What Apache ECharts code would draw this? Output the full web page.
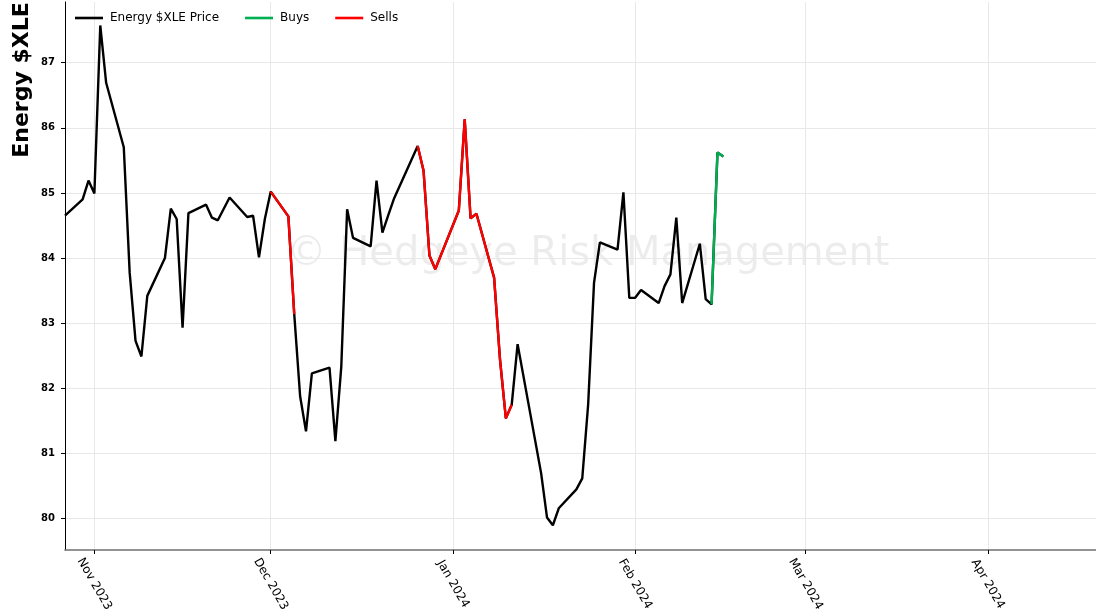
<!DOCTYPE html>
<html><head><meta charset="utf-8">
<script src="https://cdn.jsdelivr.net/npm/echarts@6/dist/echarts.min.js"></script>
<style>html,body{margin:0;padding:0;background:#fff}#c{width:1096px;height:616px}</style>
</head><body><div id="c"></div>
<script>
const dates = ['2023-10-27','2023-10-30','2023-10-31','2023-11-01','2023-11-02','2023-11-03','2023-11-06','2023-11-07','2023-11-08','2023-11-09','2023-11-10','2023-11-13','2023-11-14','2023-11-15','2023-11-16','2023-11-17','2023-11-20','2023-11-21','2023-11-22','2023-11-24','2023-11-27','2023-11-28','2023-11-29','2023-11-30','2023-12-01','2023-12-04','2023-12-05','2023-12-06','2023-12-07','2023-12-08','2023-12-11','2023-12-12','2023-12-13','2023-12-14','2023-12-15','2023-12-18','2023-12-19','2023-12-20','2023-12-21','2023-12-22','2023-12-26','2023-12-27','2023-12-28','2023-12-29','2024-01-02','2024-01-03','2024-01-04','2024-01-05','2024-01-08','2024-01-09','2024-01-10','2024-01-11','2024-01-12','2024-01-16','2024-01-17','2024-01-18','2024-01-19','2024-01-22','2024-01-23','2024-01-24','2024-01-25','2024-01-26','2024-01-29','2024-01-30','2024-01-31','2024-02-01','2024-02-02','2024-02-05','2024-02-06','2024-02-07','2024-02-08','2024-02-09','2024-02-12','2024-02-13','2024-02-14','2024-02-15','2024-02-16'];
const prices = [84.65,84.90,85.19,84.99,87.57,86.69,85.70,83.78,82.73,82.49,83.42,84.00,84.76,84.60,82.93,84.69,84.82,84.62,84.58,84.93,84.63,84.65,84.01,84.60,85.02,84.64,83.14,81.88,81.34,82.23,82.32,81.19,82.33,84.75,84.31,84.18,85.19,84.39,84.66,84.92,85.72,85.34,84.04,83.83,84.73,86.13,84.61,84.68,83.70,82.45,81.54,81.75,82.68,80.70,80.02,79.90,80.16,80.45,80.62,81.75,83.62,84.24,84.13,85.01,83.39,83.39,83.51,83.31,83.57,83.75,84.62,83.31,84.22,83.37,83.29,85.62,85.56];
const sellRanges = [['2023-12-01','2023-12-05'],['2023-12-26','2024-01-11']];
const buyRanges = [['2024-02-14','2024-02-16']];
const monthTicks = ['2023-11-01','2023-12-01','2024-01-01','2024-02-01','2024-03-01','2024-04-01'];
const monthNames = ['Jan','Feb','Mar','Apr','May','Jun','Jul','Aug','Sep','Oct','Nov','Dec'];
const yTicks = [80,81,82,83,84,85,86,87];
const xStart = '2023-10-27';
const xSpanDays = 175.4;
const yMin = 79.52, yMax = 87.93;

const ts = s => Date.parse(s + 'T00:00:00Z');
const DAY = 86400000;
const pricePts = dates.map((d, i) => [ts(d), prices[i]]);
const pick = r => pricePts.filter(p => p[0] >= ts(r[0]) && p[0] <= ts(r[1]));
const FONT = 'DejaVu Sans';
const LW = 2.4;

const series = [{
  name: 'Energy $XLE Price', type: 'line', data: pricePts, symbol: 'none',
  lineStyle: { color: '#000', width: LW }, itemStyle: { color: '#000' }, z: 3
}];
buyRanges.forEach(r => series.push({
  name: 'Buys', type: 'line', data: pick(r), symbol: 'none',
  lineStyle: { color: '#00b050', width: LW }, itemStyle: { color: '#00b050' }, z: 4
}));
sellRanges.forEach(r => series.push({
  name: 'Sells', type: 'line', data: pick(r), symbol: 'none',
  lineStyle: { color: '#ff0000', width: LW }, itemStyle: { color: '#ff0000' }, z: 4
}));

const chart = echarts.init(document.getElementById('c'), null, { renderer: 'canvas' });
chart.setOption({
  animation: false,
  backgroundColor: '#fff',
  grid: { left: 65, right: 0, top: 2, bottom: 66, containLabel: false },
  legend: {
    data: ['Energy $XLE Price', 'Buys', 'Sells'],
    icon: 'rect',
    left: 70, top: 7, itemWidth: 28, itemHeight: 2.6, itemGap: 26,
    textStyle: { fontFamily: FONT, fontSize: 12, color: '#000', padding: [0, 0, 0, 2] }
  },
  xAxis: {
    type: 'value', min: ts(xStart), max: ts(xStart) + xSpanDays * DAY,
    axisLine: { show: true, lineStyle: { color: '#707070', width: 1.6 } },
    axisTick: { show: true, length: 4, lineStyle: { color: '#000' }, customValues: monthTicks.map(ts) },
    axisLabel: {
      customValues: monthTicks.map(ts), rotate: -60, align: 'center', verticalAlign: 'middle', margin: 34,
      fontFamily: FONT, fontSize: 12, color: '#000',
      formatter: v => { const d = new Date(v); return monthNames[d.getUTCMonth()] + ' ' + d.getUTCFullYear(); }
    },
    splitLine: { show: true, lineStyle: { color: '#e8e8e8', width: 1 } }
  },
  yAxis: {
    type: 'value', min: yMin, max: yMax,
    axisLine: { show: true, lineStyle: { color: '#000', width: 1 } },
    axisTick: { show: true, length: 4, lineStyle: { color: '#000' }, customValues: yTicks },
    axisLabel: { customValues: yTicks, margin: 10, fontFamily: FONT, fontSize: 10, fontWeight: 'bold', color: '#000' },
    splitLine: { show: true, lineStyle: { color: '#e8e8e8', width: 1 } }
  },
  graphic: [
    { type: 'text', x: 588, y: 255, z: -1, silent: true,
      style: { text: '© Hedgeye Risk Management', fill: 'rgba(0,0,0,0.075)', font: '40px "DejaVu Sans"', align: 'center', verticalAlign: 'middle' } },
    { type: 'text', rotation: Math.PI / 2, x: 22, y: 80, z: 10,
      style: { text: 'Energy $XLE', fill: '#000', font: 'bold 22px "DejaVu Sans"', align: 'center', verticalAlign: 'middle' } }
  ],
  series
});
</script></body></html>
